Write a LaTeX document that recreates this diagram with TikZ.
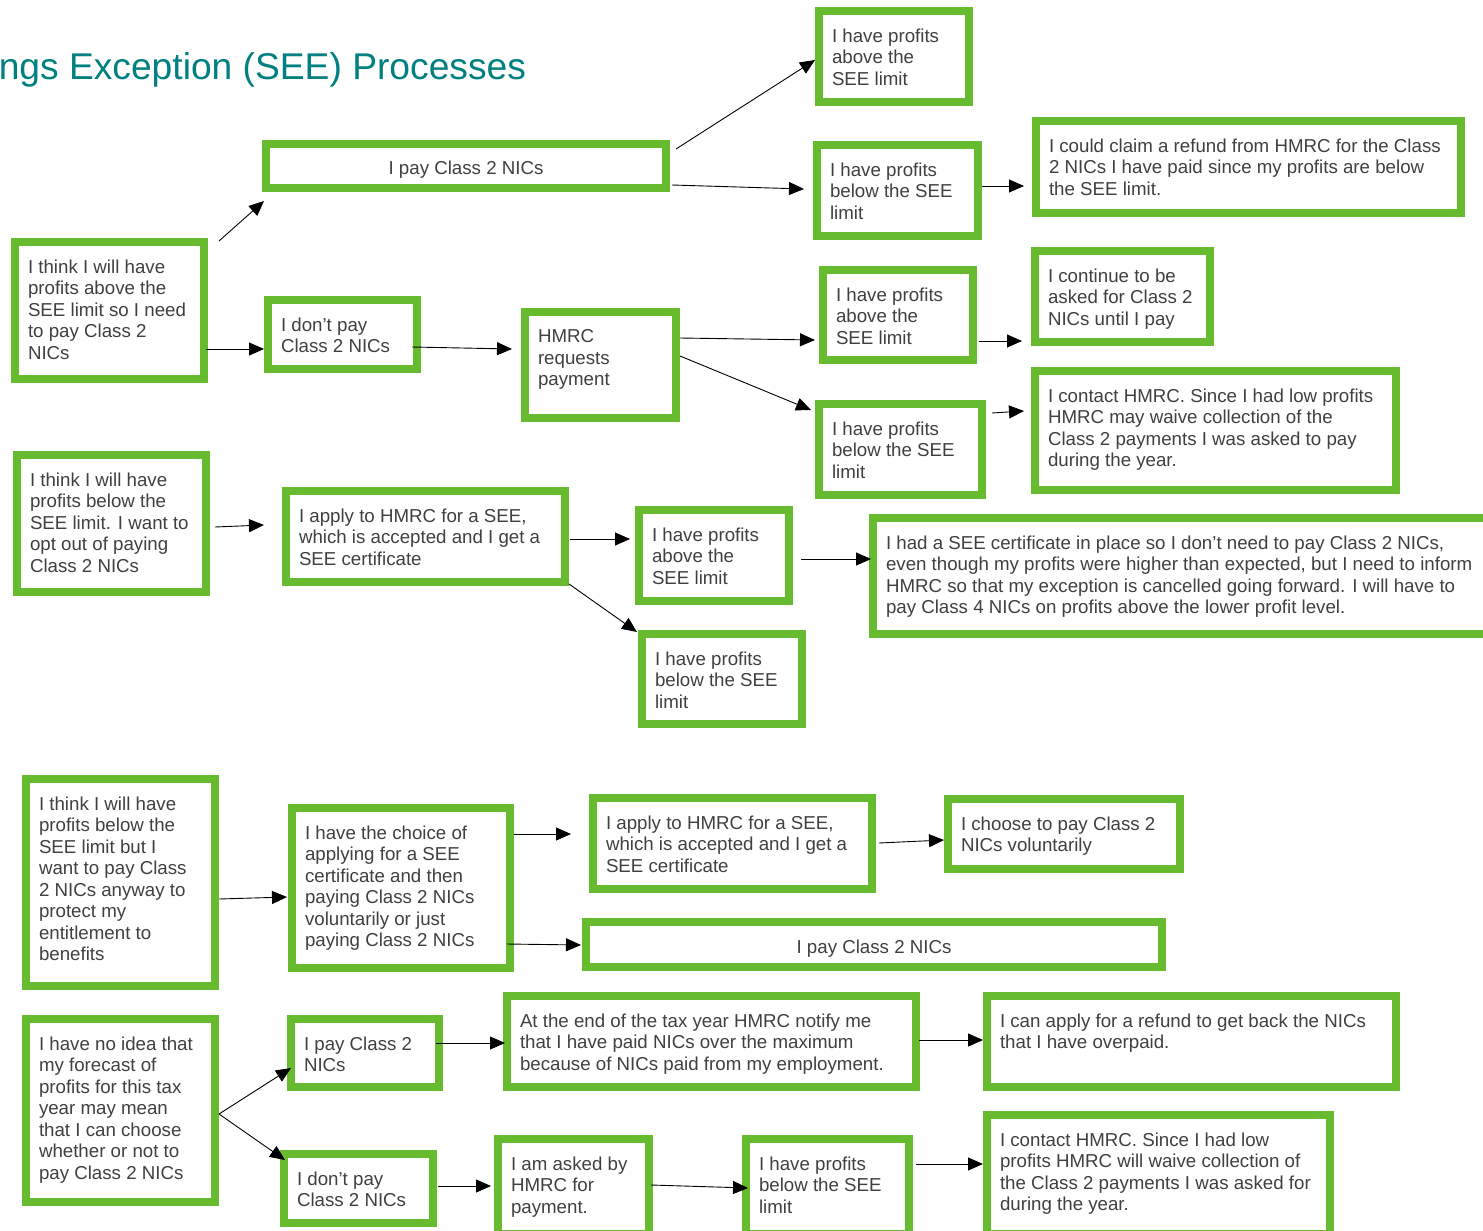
\documentclass[tikz,border=0pt]{standalone}
\usepackage{fontspec}
\setmainfont{Liberation Sans}
\usetikzlibrary{arrows.meta}
\definecolor{boxgreen}{RGB}{102,187,46}
\definecolor{txtgray}{RGB}{64,64,64}
\definecolor{titleteal}{RGB}{0,128,128}
\tikzset{
  gbox/.style={draw=boxgreen, line width=8pt, fill=white, rectangle, inner sep=0pt, outer sep=0pt},
  txt/.style={text=txtgray, align=left, inner sep=0pt, outer sep=0pt, font={\fontsize{18.7}{21.5}\selectfont}},
  ttl/.style={text=titleteal, inner sep=0pt, outer sep=0pt, font={\fontsize{37.2}{44}\selectfont}},
  arr/.style={draw=black, line width=0.9pt, -{Triangle[length=15pt,width=13pt]}}
}
\newcommand\mkbox[6]{%
  \node[gbox, minimum width={#4-#2-8}, minimum height={#5-#3-8}, anchor=north west] (#1) at ({#2+4},{#3+4}) {};
  \node[txt, anchor=north west] (#1t) at ({#2+17},{#3+21.5}) {#6};}
\newcommand\mkcbox[6]{%
  \node[gbox, minimum width={#4-#2-8}, minimum height={#5-#3-8}, anchor=north west] (#1) at ({#2+4},{#3+4}) {};
  \node[txt] (#1t) at ([yshift=-4]#1.center) {#6};}
\begin{document}
\begin{tikzpicture}[x=1pt, y=-1pt]
\useasboundingbox (0,0) rectangle (1483,1231);
\clip (0,0) rectangle (1483,1231);
\fill[white] (0,0) rectangle (1483,1231);

\node[ttl, anchor=base east] (title) at (526,80) {ngs Exception (SEE) Processes};

\mkbox{T1}{815}{7}{973}{106}{I have profits\\above the\\SEE limit}
\mkcbox{P1}{262}{140}{670}{192}{I pay Class 2 NICs}
\mkbox{B1}{813}{141}{982}{240}{I have profits\\below the SEE\\limit}
\mkbox{R1}{1032}{117}{1465}{217}{I could claim a refund from HMRC for the Class\\2 NICs I have paid since my profits are below\\the SEE limit.}
\mkbox{A}{11}{238}{208}{383}{I think I will have\\profits above the\\SEE limit so I need\\to pay Class 2\\NICs}
\mkbox{D1}{264}{296}{421}{373}{I don’t pay\\Class 2 NICs}
\mkbox{H}{521}{308}{680}{422}{HMRC\\requests\\payment}
\mkbox{T2}{819}{266}{977}{364}{I have profits\\above the\\SEE limit}
\mkbox{C1}{1031}{247}{1214}{346}{I continue to be\\asked for Class 2\\NICs until I pay}
\mkbox{B2}{815}{400}{986}{499}{I have profits\\below the SEE\\limit}
\mkbox{W1}{1031}{367}{1400}{494}{I contact HMRC. Since I had low profits\\HMRC may waive collection of the\\Class 2 payments I was asked to pay\\during the year.}
\mkbox{E}{13}{451}{210}{596}{I think I will have\\profits below the\\SEE limit. I want to\\opt out of paying\\Class 2 NICs}
\mkbox{S1}{282}{487}{569}{586}{I apply to HMRC for a SEE,\\which is accepted and I get a\\SEE certificate}
\mkbox{T3}{635}{506}{793}{605}{I have profits\\above the\\SEE limit}
\mkbox{X}{869}{514}{1495}{638}{I had a SEE certificate in place so I don’t need to pay Class 2 NICs,\\even though my profits were higher than expected, but I need to inform\\HMRC so that my exception is cancelled going forward. I will have to\\pay Class 4 NICs on profits above the lower profit level.}
\mkbox{B3}{638}{630}{806}{728}{I have profits\\below the SEE\\limit}
\mkbox{F}{22}{775}{219}{990}{I think I will have\\profits below the\\SEE limit but I\\want to pay Class\\2 NICs anyway to\\protect my\\entitlement to\\benefits}
\mkbox{G}{288}{804}{514}{972}{I have the choice of\\applying for a SEE\\certificate and then\\paying Class 2 NICs\\voluntarily or just\\paying Class 2 NICs}
\mkbox{S2}{589}{794}{876}{893}{I apply to HMRC for a SEE,\\which is accepted and I get a\\SEE certificate}
\mkbox{V}{944}{795}{1184}{873}{I choose to pay Class 2\\NICs voluntarily}
\mkcbox{P2}{582}{918}{1166}{971}{I pay Class 2 NICs}
\mkbox{N}{22}{1015}{219}{1206}{I have no idea that\\my forecast of\\profits for this tax\\year may mean\\that I can choose\\whether or not to\\pay Class 2 NICs}
\mkbox{P3}{287}{1015}{443}{1091}{I pay Class 2\\NICs}
\mkbox{Y}{503}{992}{920}{1091}{At the end of the tax year HMRC notify me\\that I have paid NICs over the maximum\\because of NICs paid from my employment.}
\mkbox{Z}{983}{992}{1400}{1091}{I can apply for a refund to get back the NICs\\that I have overpaid.}
\mkbox{D2}{280}{1150}{437}{1227}{I don’t pay\\Class 2 NICs}
\mkbox{K}{494}{1135}{653}{1238}{I am asked by\\HMRC for\\payment.}
\mkbox{B4}{742}{1135}{913}{1238}{I have profits\\below the SEE\\limit}
\mkbox{W2}{983}{1111}{1334}{1238}{I contact HMRC. Since I had low\\profits HMRC will waive collection of\\the Class 2 payments I was asked for\\during the year.}

% connectors
\draw[arr] ([shift={(15,-1)}]A.north east) -- ([shift={(-2,13)}]P1.south west);
\draw[arr] ([shift={(2,-30)}]A.south east) -- ([shift={(-4,14.5)}]D1.west);
\draw[arr] ([shift={(10,5)}]P1.north east) -- ([shift={(-4,3.5)}]T1.west);
\draw[arr] ([shift={(6,-3)}]P1.south east) -- ([shift={(-13,-1.5)}]B1.west);
\draw[arr] ([shift={(4,-4.5)}]B1.east) -- ([shift={(-12,19)}]R1.west);
\draw[arr] ([shift={(-5,12.5)}]D1.east) -- ([shift={(-13,-16)}]H.west);
\draw[arr] ([shift={(4,-27)}]H.east) -- ([shift={(-8,25)}]T2.west);
\draw[arr] ([shift={(4,-9)}]H.east) -- ([shift={(-8,6)}]B2.north west);
\draw[arr] ([shift={(6,26)}]T2.east) -- ([shift={(-13,44.5)}]C1.west);
\draw[arr] ([shift={(10,9)}]B2.north east) -- ([shift={(-11,-19.5)}]W1.west);
\draw[arr] ([shift={(9,3.5)}]E.east) -- ([shift={(-22,-11.5)}]S1.west);
\draw[arr] ([shift={(5,2.5)}]S1.east) -- ([shift={(-9,-16.5)}]T3.west);
\draw[arr] ([shift={(4,2)}]S1.south east) -- ([shift={(-5,-2)}]B3.north west);
\draw[arr] ([shift={(12,3.5)}]T3.east) -- ([shift={(-2,-17)}]X.west);
\draw[arr] ([shift={(4,16.5)}]F.east) -- ([shift={(-5,9)}]G.west);
\draw[arr] ([shift={(4,26)}]G.north east) -- ([shift={(-22,-9.5)}]S2.west);
\draw[arr] ([shift={(-3,-24)}]G.south east) -- ([shift={(-5,0.5)}]P2.west);
\draw[arr] ([shift={(7,-0.5)}]S2.east) -- ([shift={(-4,6)}]V.west);
\draw[arr] ([shift={(4,3.5)}]N.east) -- ([shift={(0,-19)}]P3.south west);
\draw[arr] ([shift={(4,3.5)}]N.east) -- ([shift={(1,6)}]D2.north west);
\draw[arr] ([shift={(-3,-10)}]P3.east) -- ([shift={(-2,1.5)}]Y.west);
\draw[arr] ([shift={(5,-2.5)}]D2.east) -- ([shift={(-7,-0.5)}]K.west);
\draw[arr] ([shift={(3,-1.5)}]Y.east) -- ([shift={(-4,-1.5)}]Z.west);
\draw[arr] ([shift={(2,-1.5)}]K.east) -- ([shift={(2,1.5)}]B4.west);
\draw[arr] ([shift={(7,-22.5)}]B4.east) -- ([shift={(-4,-10.5)}]W2.west);
\end{tikzpicture}
\end{document}
